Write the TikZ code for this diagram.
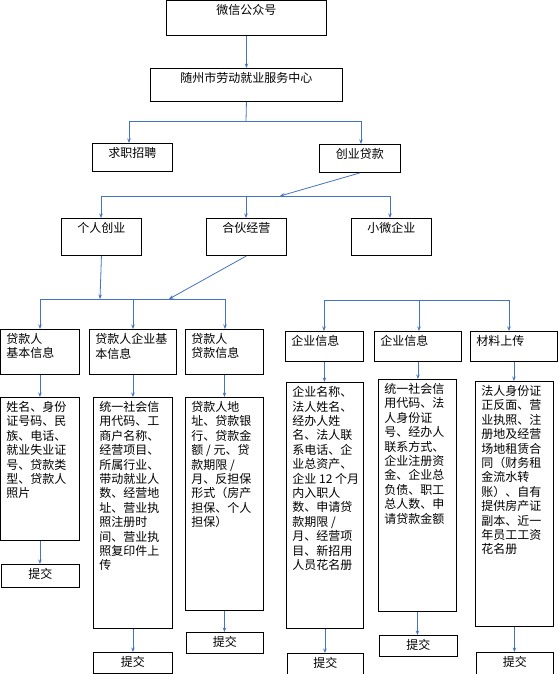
\documentclass[tikz,border=0pt]{standalone}
\usepackage{fontspec}
\newfontfamily\cjk{Noto Sans CJK SC}
\usetikzlibrary{arrows.meta}
\definecolor{connblue}{HTML}{4472C4}
\newcommand{\bx}[7][]{%
  \node[boxst,#1,anchor=north west,minimum width={#5pt-#3pt},minimum height={#6pt-#4pt}] (#2) at (#3,#4)
  {\parbox[t][\dimexpr #6pt-#4pt-8pt\relax][t]{\dimexpr #5pt-#3pt-12pt\relax}{\cjk\fontsize{12pt}{14.4pt}\selectfont\raggedright #7}};}
\begin{document}
\begin{tikzpicture}[x=1pt,y=-1pt,
  boxst/.style={draw=black,line width=0.9pt,inner xsep=6pt,inner ysep=4pt,fill=white},
  ln/.style={draw=connblue,line width=0.8pt},
  arr/.style={draw=connblue,line width=0.8pt,-{Stealth[length=4.5pt,width=3.5pt]}}]
\useasboundingbox (0,0) rectangle (557,674);
\fill[white] (0,0) rectangle (557,674);
% top level
\bx{wx}{166}{0}{326}{35}{\centering 微信公众号}
\bx{sz}{150}{68}{342}{101}{\centering 随州市劳动就业服务中心}
\bx{qz}{92}{143}{172}{171}{\centering 求职招聘}
\bx{cy}{319}{144}{400}{172}{\centering 创业贷款}
\bx{gr}{61}{218}{141}{255}{\centering 个人创业}
\bx{hh}{206}{218}{286}{255}{\centering 合伙经营}
\bx{xw}{351}{218}{431}{255}{\centering 小微企业}
% headers
\bx{h1}{0}{329}{79}{374}{贷款人\\基本信息}
\bx{h2}{89}{329}{176}{374}{贷款人企业基\\本信息}
\bx{h3}{185}{329}{263}{374}{贷款人\\贷款信息}
\bx{h4}{285}{331}{363}{361}{企业信息}
\bx{h5}{374}{331}{461}{361}{企业信息}
\bx{h6}{470}{331}{557}{361}{材料上传}
% details
\bx{d1}{0}{397}{79}{540}{姓名、身份\\证号码、民\\族、电话、\\就业失业证\\号、贷款类\\型、贷款人\\照片}
\bx{d2}{93}{397}{172}{628}{统一社会信\\用代码、工\\商户名称、\\经营项目、\\所属行业、\\带动就业人\\数、经营地\\址、营业执\\照注册时\\间、营业执\\照复印件上\\传}
\bx{d3}{185}{397}{263}{610}{贷款人地\\址、贷款银\\行、贷款金\\额 / 元、贷\\款期限 /\\月、反担保\\形式（房产\\担保、个人\\担保）}
\bx{d4}{286}{382}{363}{628}{企业名称、\\法人姓名、\\经办人姓\\名、法人联\\系电话、企\\业总资产、\\\mbox{企业 12 个月}\\内入职人\\数、申请贷\\款期限 /\\月、经营项\\目、新招用\\人员花名册}
\bx{d5}{378}{379}{456}{611}{统一社会信\\用代码、法\\人身份证\\号、经办人\\联系方式、\\企业注册资\\金、企业总\\负债、职工\\总人数、申\\请贷款金额}
\bx{d6}{475}{381}{553}{626}{法人身份证\\正反面、营\\业执照、注\\册地及经营\\场地租赁合\\同（财务租\\金流水转\\账）、自有\\提供房产证\\副本、近一\\年员工工资\\花名册}
% submit
\bx{s1}{1}{564}{79}{587}{\centering 提交}
\bx{s2}{93}{652}{172}{673}{\centering 提交}
\bx{s3}{186}{632}{263}{653}{\centering 提交}
\bx{s4}{287}{653}{363}{674}{\centering 提交}
\bx{s5}{379}{635}{457}{656}{\centering 提交}
\bx{s6}{476}{652}{553}{674}{\centering 提交}
% connectors
\draw[arr] (wx.south) -- (sz.north);
\coordinate (a1) at (246,121);
\coordinate (a1l) at (129,121);
\coordinate (a1r) at (361,121);
\draw[ln] (sz.south) -- (a1);
\draw[ln] (a1l) -- (a1r);
\draw[arr] (a1l) -- (a1l |- qz.north);
\draw[arr] (a1r) -- (a1r |- cy.north);
\coordinate (a2) at (280,196);
\coordinate (a2l) at (101,196);
\coordinate (a2m) at (246,196);
\coordinate (a2r) at (390,196);
\draw[arr] (cy.south) -- (a2);
\draw[ln] (a2l) -- (a2r);
\draw[arr] (a2l) -- (a2l |- gr.north);
\draw[arr] (a2m) -- (a2m |- hh.north);
\draw[arr] (a2r) -- (a2r |- xw.north);
\coordinate (a3l) at (40,299);
\coordinate (a3m) at (133,299);
\coordinate (a3r) at (225,299);
\coordinate (a3g) at (100,299);
\coordinate (a3h) at (169,299);
\draw[arr] (gr.south) -- (a3g);
\draw[arr] (hh.south) -- (a3h);
\draw[ln] (a3l) -- (a3r);
\draw[arr] (a3l) -- (a3l |- h1.north);
\draw[arr] (a3m) -- (a3m |- h2.north);
\draw[arr] (a3r) -- (a3r |- h3.north);
\coordinate (b3l) at (324,300);
\coordinate (b3m) at (419,300);
\coordinate (b3r) at (509,300);
\draw[ln] (b3l) -- (b3r);
\draw[arr] (b3l) -- (b3l |- h4.north);
\draw[arr] (b3m) -- (b3m |- h5.north);
\draw[arr] (b3r) -- (b3r |- h6.north);
\foreach \i in {1,...,6}{
  \draw[arr] (h\i.south) -- (h\i.south |- d\i.north);
  \draw[arr] (d\i.south) -- (d\i.south |- s\i.north);
}
\end{tikzpicture}
\end{document}
